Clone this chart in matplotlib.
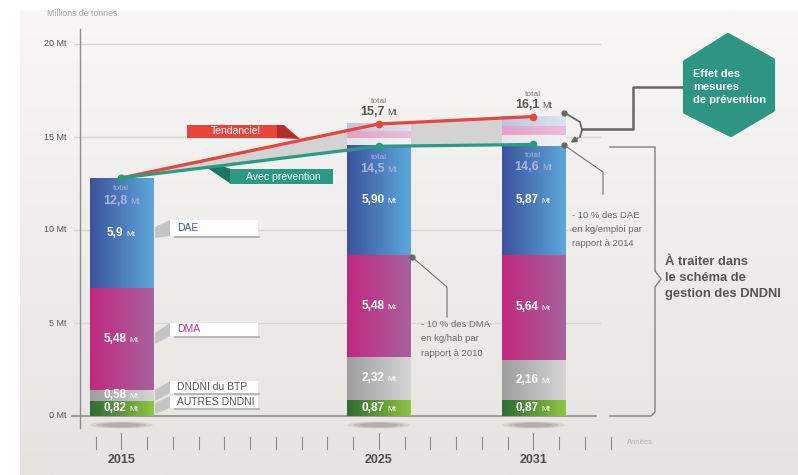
import numpy as np
import matplotlib
matplotlib.use("Agg")
import matplotlib.pyplot as plt
from matplotlib.patches import Polygon, Ellipse, Rectangle
from matplotlib.colors import LinearSegmentedColormap
from matplotlib.offsetbox import TextArea, HPacker, AnnotationBbox

plt.rcParams['font.family'] = ['Liberation Sans', 'DejaVu Sans']

# =========================================================================================
# Données (millions de tonnes)
# =========================================================================================
annees = [2015, 2025, 2031]
autres_dndni = [0.82, 0.87, 0.87]
dndni_btp = [0.58, 2.32, 2.16]
dma = [5.48, 5.48, 5.64]
dae = [5.90, 5.90, 5.87]
lib_autres = ['0,82', '0,87', '0,87']
lib_btp = ['0,58', '2,32', '2,16']
lib_dma = ['5,48', '5,48', '5,64']
lib_dae = ['5,9', '5,90', '5,87']

total_prevention = [12.8, 14.5, 14.6]
total_tendanciel = [12.8, 15.7, 16.1]
lib_prevention = ['12,8', '14,5', '14,6']
lib_tendanciel = ['', '15,7', '16,1']

# écart tendanciel / prévention (parties estompées au-dessus des barres)
ecart_autres = [0.0, 0.40, 0.57]
ecart_dma = [0.0, 0.33, 0.47]
ecart_dae = [0.0, 0.40, 0.52]

graduations_y = [0, 5, 10, 15, 20]
annees_ticks = list(range(2014, 2035))

# =========================================================================================
# Conversion pixels -> coordonnées (pour la mise en page des annotations)
# =========================================================================================
def X(px):
    return 2015 + (px - 121.3) / 25.75

def Y(py):
    return (416 - py) / 18.6

def XY(pts):
    return [(X(a), Y(b)) for a, b in pts]

fig = plt.figure(figsize=(7.98, 4.75), dpi=100)
ax = fig.add_axes([0, 0, 1, 1])
ax.axis('off')

def degrade(x0, x1, y0, y1, c1, c2, z, vertical=False):
    cmap = LinearSegmentedColormap.from_list('g', [c1, c2])
    g = np.linspace(0, 1, 256)
    g = g.reshape(-1, 1) if vertical else g.reshape(1, -1)
    ax.imshow(g, cmap=cmap, extent=[x0, x1, y0, y1], origin='upper',
              aspect='auto', zorder=z, interpolation='bilinear')

# fond du panneau
degrade(X(20), X(798), Y(475), Y(10), '#f8f7f6', '#e6e4e1', 0, vertical=True)

# =========================================================================================
# Axes, grille, graduations
# =========================================================================================
for g in graduations_y:
    if g == 0:
        ax.plot([X(72), X(596)], [g, g], color='#8e8e8e', lw=1.2, zorder=2)
    else:
        ax.plot([X(74), X(600)], [g, g], color='#d8d6d3', lw=1, zorder=1)
    ax.text(X(67), g, f'{g} Mt', ha='right', va='center', fontsize=6.5, color='#555555')
ax.plot([X(80), X(80)], [Y(428), Y(29)], color='#8e8e8e', lw=1, zorder=2)
ax.text(X(47), Y(13), 'Millions de tonnes', ha='left', va='center', fontsize=6.3, color='#a8a8a8')

for a in annees_ticks:
    haut = 433 if a in annees else 437
    ax.plot([a, a], [Y(449), Y(haut)], color='#8a8a8a', lw=0.8)
for a in annees:
    ax.text(a, Y(460), str(a), ha='center', va='center', fontsize=9,
            fontweight='bold', color='#4d4d4d')
ax.text(X(627), Y(443), 'Années', ha='left', va='center', fontsize=5.5, color='#b3b3b3')

# =========================================================================================
# Zone entre les deux scénarios + courbes
# =========================================================================================
ax.fill_between(annees, total_prevention, total_tendanciel, color='#d3d3d3', zorder=1.5, lw=0)

largeur = 2.45
bas = np.zeros(len(annees))
series = [(autres_dndni, '#2f6b32', '#8dc63f'),
          (dndni_btp, '#9d9d9d', '#d6d6d6'),
          (dma, '#c0287e', '#a8629f'),
          (dae, '#3b529c', '#5ca8db')]
centres = []
for vals, c1, c2 in series:
    barres = ax.bar(annees, vals, largeur, bottom=bas, color=c2, zorder=3, lw=0)
    for p in barres:
        degrade(p.get_x(), p.get_x() + p.get_width(), p.get_y(), p.get_y() + p.get_height(),
                c1, c2, 3.1)
    centres.append(bas + np.array(vals) / 2)
    bas = bas + np.array(vals)

for vals, c1, c2 in [(ecart_autres, '#e4e4e4', '#f3f3f3'),
                     (ecart_dma, '#e3a2c6', '#ecbdd8'),
                     (ecart_dae, '#bfc3df', '#dbe4f1')]:
    barres = ax.bar(annees, vals, largeur, bottom=bas, color=c2, zorder=3, lw=0)
    for p in barres:
        if p.get_height() > 0:
            degrade(p.get_x(), p.get_x() + p.get_width(), p.get_y(), p.get_y() + p.get_height(),
                    c1, c2, 3.1)
    bas = bas + np.array(vals)

# ombres sous les barres
for a in annees:
    for k, al in [(1.0, 0.25), (0.8, 0.35), (0.6, 0.4)]:
        ax.add_patch(Ellipse((a, Y(425)), largeur * k, 7 / 18.6 * k, color='#9a9a9a',
                             alpha=al, lw=0, zorder=1))

ax.plot(annees, total_tendanciel, color='#e8453c', lw=2.3, marker='o', ms=4.5, zorder=6)
ax.plot(annees, total_prevention, color='#2b9a83', lw=2.3, marker='o', ms=4.5, zorder=7)

# =========================================================================================
# Étiquettes des valeurs
# =========================================================================================
def lib_mt(x, y, nombre, couleur, taille, z=8):
    t1 = TextArea(nombre, textprops=dict(color=couleur, fontsize=taille, fontweight='bold'))
    t2 = TextArea('Mt', textprops=dict(color=couleur, fontsize=taille * 0.7))
    boite = HPacker(children=[t1, t2], align='baseline', pad=0, sep=2)
    ab = AnnotationBbox(boite, (x, y), frameon=False, box_alignment=(0.5, 0.5),
                        zorder=z, annotation_clip=False)
    ax.add_artist(ab)

for i, a in enumerate(annees):
    libs = [lib_autres[i], lib_btp[i], lib_dma[i], lib_dae[i]]
    for k in range(4):
        lib_mt(a, centres[k][i], libs[k], 'white', 8.5)
    # total dans la barre
    ax.text(a, total_prevention[i] - 11 / 18.6, 'total', ha='center', va='center',
            fontsize=6, color='#a9b5dc', zorder=8)
    lib_mt(a, total_prevention[i] - 23 / 18.6, lib_prevention[i], '#aab6de', 9)
    if lib_tendanciel[i]:
        ax.text(a, total_tendanciel[i] + 22 / 18.6, 'total', ha='center', va='center',
                fontsize=6, color='#777777', zorder=8)
        lib_mt(a, total_tendanciel[i] + 12 / 18.6, lib_tendanciel[i], '#555555', 9)

# =========================================================================================
# Légendes des catégories (boîtes blanches à droite de 2015)
# =========================================================================================
categories = [('DAE', '#3d5a99', 220, 236, 232),
              ('DMA', '#c7307f', 323, 336, 338),
              ('DNDNI du BTP', '#555555', 381, 393, 395),
              ('AUTRES DNDNI', '#555555', 396, 408, 408)]
for nom, coul, y0, y1, ybar in categories:
    ax.add_patch(Polygon(XY([(155, ybar - 5), (170, y0), (170, y1), (155, ybar + 6)]),
                         color='#c4c4c4', lw=0, zorder=2.5))
    ax.add_patch(Rectangle((X(174), Y(y1 + 2)), X(260) - X(174), Y(y1) - Y(y1 + 2),
                           color='#b8b8b8', lw=0, zorder=2.6))
    ax.add_patch(Rectangle((X(170), Y(y1)), X(258) - X(170), Y(y0) - Y(y1),
                           color='white', lw=0, zorder=2.7))
    ax.text(X(177), Y((y0 + y1) / 2), nom, ha='left', va='center', fontsize=7.5,
            color=coul, zorder=2.8)

# =========================================================================================
# Bandeaux "Tendanciel" et "Avec prévention"
# =========================================================================================
ax.add_patch(Polygon(XY([(276, 125), (284, 125), (300, 139), (276, 138)]),
                     color='#b52f28', lw=0, zorder=5))
ax.add_patch(Rectangle((X(187), Y(138)), X(277) - X(187), Y(125) - Y(138),
                       color='#e8453c', lw=0, zorder=5))
ax.text(X(236), Y(131.5), 'Tendanciel', ha='center', va='center', fontsize=7.5,
        color='white', zorder=5.5)

ax.add_patch(Polygon(XY([(206, 167), (222, 166), (231, 169), (231, 184)]),
                     color='#1f7563', lw=0, zorder=5))
ax.add_patch(Rectangle((X(230), Y(184)), X(333) - X(230), Y(169) - Y(184),
                       color='#2b9a83', lw=0, zorder=5))
ax.text(X(283), Y(176.5), 'Avec prévention', ha='center', va='center', fontsize=7.5,
        color='white', zorder=5.5)

# =========================================================================================
# Annotations
# =========================================================================================
gris = '#707070'
ax.plot(*zip(*XY([(412, 257), (447, 287), (447, 317)])), color=gris, lw=0.8, zorder=8)
ax.plot(X(412), Y(257), 'o', color='#666666', ms=3.5, zorder=9)
ax.text(X(421), Y(320), '- 10 % des DMA\nen kg/hab par\nrapport à 2010', ha='left', va='top',
        fontsize=6.8, color='#6b6b6b', linespacing=1.75)

ax.plot(*zip(*XY([(564, 145), (603, 172), (603, 194)])), color=gris, lw=0.8, zorder=8)
ax.plot(X(564), Y(145), 'o', color='#666666', ms=3.5, zorder=9)
ax.plot(X(564), Y(113), 'o', color='#666666', ms=3.5, zorder=9)
ax.text(X(572), Y(211), '- 10 % des DAE\nen kg/emploi par\nrapport à 2014', ha='left', va='top',
        fontsize=6.8, color='#6b6b6b', linespacing=1.75)

# accolade "effet des mesures"
ax.plot(*zip(*XY([(565, 113), (580, 122), (582, 130), (580, 137)])), color='#666666',
        lw=1.3, zorder=8)
ax.annotate('', xy=(X(568), Y(144)), xytext=(X(580), Y(137)),
            arrowprops=dict(arrowstyle='-|>', color='#666666', lw=1.3, mutation_scale=8),
            zorder=8)
ax.plot(*zip(*XY([(582, 129), (633, 129), (633, 87), (684, 87)])), color='#666666',
        lw=1.8, zorder=8)

# hexagone
hexa = Polygon(XY([(685, 62), (728, 35), (773, 60), (773, 110), (731, 135), (685, 112)]),
               closed=True, facecolor='#2e9582', edgecolor='#2e9582', lw=3,
               joinstyle='round', zorder=9)
ax.add_patch(hexa)
ax.text(X(693), Y(87), 'Effet des\nmesures\nde prévention', ha='left', va='center',
        fontsize=8, fontweight='bold', color='white', linespacing=1.35, zorder=10)

# crochet "À traiter"
ax.plot(*zip(*XY([(610, 147), (655, 147), (655, 271), (661, 279), (655, 287), (655, 412),
                  (651, 416), (610, 416)])), color='#808080', lw=1, zorder=2)
ax.text(X(665), Y(278), 'À traiter dans\nle schéma de\ngestion des DNDNI', ha='left',
        va='center', fontsize=9.3, fontweight='bold', color='#555555', linespacing=1.4)

ax.set_xlim(X(0), X(798))
ax.set_ylim(Y(475), Y(0))
fig.savefig('out.png', dpi=100, facecolor='white')
